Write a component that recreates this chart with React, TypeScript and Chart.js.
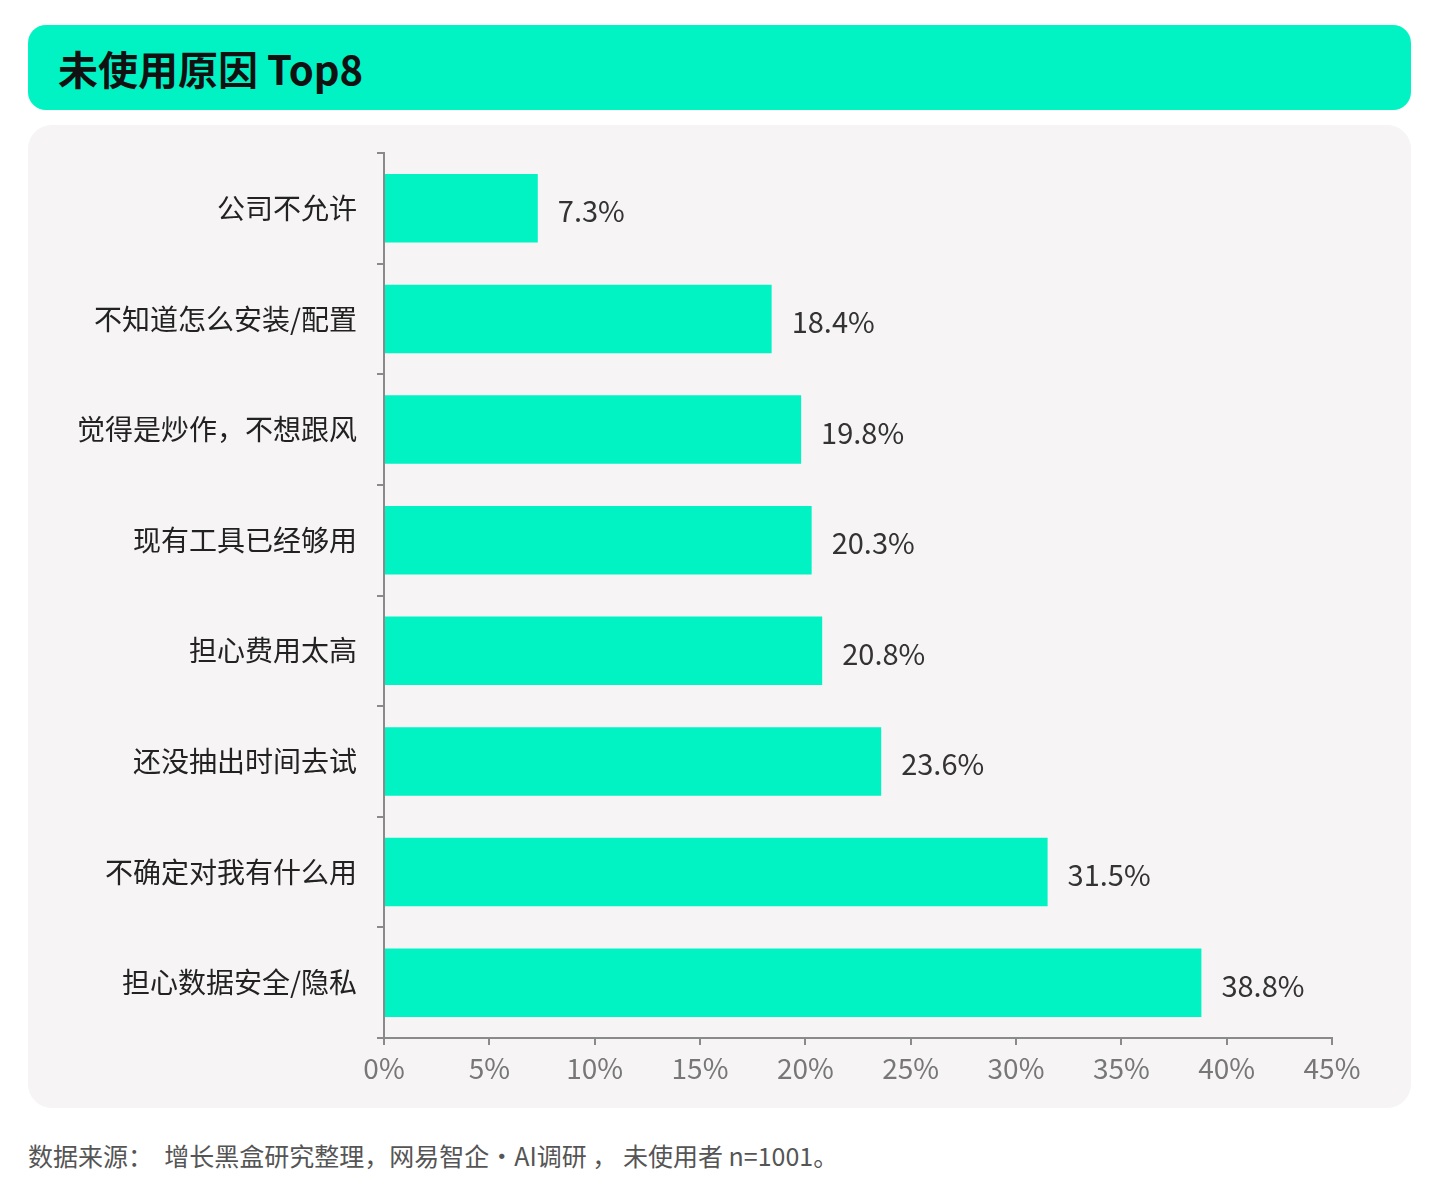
import { useEffect, useRef } from 'react';
import { Chart, registerables } from 'chart.js';

Chart.register(...registerables);

const title = '未使用原因 Top8';
const source = '数据来源：  增长黑盒研究整理，网易智企·AI调研 ， 未使用者 n=1001。';

const reasons = [
  '公司不允许',
  '不知道怎么安装/配置',
  '觉得是炒作，不想跟风',
  '现有工具已经够用',
  '担心费用太高',
  '还没抽出时间去试',
  '不确定对我有什么用',
  '担心数据安全/隐私',
];
const shares = [7.3, 18.4, 19.8, 20.3, 20.8, 23.6, 31.5, 38.8];
const axisMax = 45;
const axisStep = 5;

const GREEN = '#01F3C3';
const FONT = '"Noto Sans CJK SC", "Noto Sans", sans-serif';

const valueLabels = {
  id: 'valueLabels',
  afterDatasetsDraw(chart: any) {
    const ctx = chart.ctx;
    const meta = chart.getDatasetMeta(0);
    ctx.save();
    ctx.font = `29px ${FONT}`;
    ctx.fillStyle = '#333333';
    ctx.textAlign = 'left';
    ctx.textBaseline = 'middle';
    meta.data.forEach((bar: any, i: number) => {
      ctx.fillText(shares[i].toFixed(1) + '%', bar.x + 20, bar.y + 3);
    });
    ctx.restore();
  },
};

export default function App() {
  const chartRef = useRef<HTMLCanvasElement>(null);
  const chartInstance = useRef<Chart | null>(null);

  useEffect(() => {
    document.body.style.margin = '0';
    if (!chartRef.current) return;
    if (chartInstance.current) chartInstance.current.destroy();

    const ctx = chartRef.current.getContext('2d');
    if (!ctx) return;

    chartInstance.current = new Chart(ctx, {
      type: 'bar',
      data: {
        labels: reasons,
        datasets: [{
          data: shares,
          backgroundColor: GREEN,
          barPercentage: 0.62,
          categoryPercentage: 1,
        }],
      },
      options: {
        indexAxis: 'y',
        animation: false,
        responsive: false,
        maintainAspectRatio: false,
        layout: {
          padding: { top: 28, right: 79, left: 0, bottom: 0 },
        },
        plugins: {
          legend: { display: false },
          tooltip: { enabled: false },
        },
        scales: {
          x: {
            min: 0,
            max: axisMax,
            ticks: {
              stepSize: axisStep,
              color: '#777777',
              padding: 7,
              font: { family: FONT, size: 28 },
              callback: (v: any) => v + '%',
            },
            grid: {
              drawOnChartArea: false,
              drawTicks: true,
              tickLength: 7,
              color: '#8a8a8a',
              lineWidth: 2,
            },
            border: { display: true, color: '#8a8a8a', width: 2 },
            afterFit: (scale: any) => { scale.height = 70; },
          },
          y: {
            ticks: {
              color: '#222222',
              padding: 20,
              font: { family: FONT, size: 28 },
            },
            grid: {
              drawOnChartArea: false,
              drawTicks: true,
              tickLength: 7,
              color: '#8a8a8a',
              lineWidth: 2,
            },
            border: { display: true, color: '#8a8a8a', width: 2 },
            afterFit: (scale: any) => {
              scale.width = 356;
              scale.paddingTop = 0;
              scale.paddingBottom = 0;
            },
          },
        },
      },
      plugins: [valueLabels],
    });

    return () => {
      if (chartInstance.current) {
        chartInstance.current.destroy();
        chartInstance.current = null;
      }
    };
  }, []);

  return (
    <div style={{ position: 'relative', width: 1440, height: 1197, background: '#ffffff', fontFamily: FONT }}>
      <div
        style={{
          position: 'absolute', left: 28, top: 25, width: 1383, height: 85,
          background: GREEN, borderRadius: 18, boxSizing: 'border-box',
          paddingLeft: 30, display: 'flex', alignItems: 'center',
        }}
      >
        <span style={{ fontSize: 40, fontWeight: 700, color: '#111111' }}>{title}</span>
      </div>
      <div
        style={{
          position: 'absolute', left: 28, top: 125, width: 1383, height: 983,
          background: '#F6F4F5', borderRadius: 24, overflow: 'hidden',
        }}
      >
        <canvas ref={chartRef} width={1383} height={983} style={{ display: 'block', width: 1383, height: 983 }} />
      </div>
      <div
        style={{
          position: 'absolute', left: 28, top: 1136, fontSize: 25, color: '#555555',
          whiteSpace: 'pre', lineHeight: '38px',
        }}
      >
        {source}
      </div>
    </div>
  );
}
